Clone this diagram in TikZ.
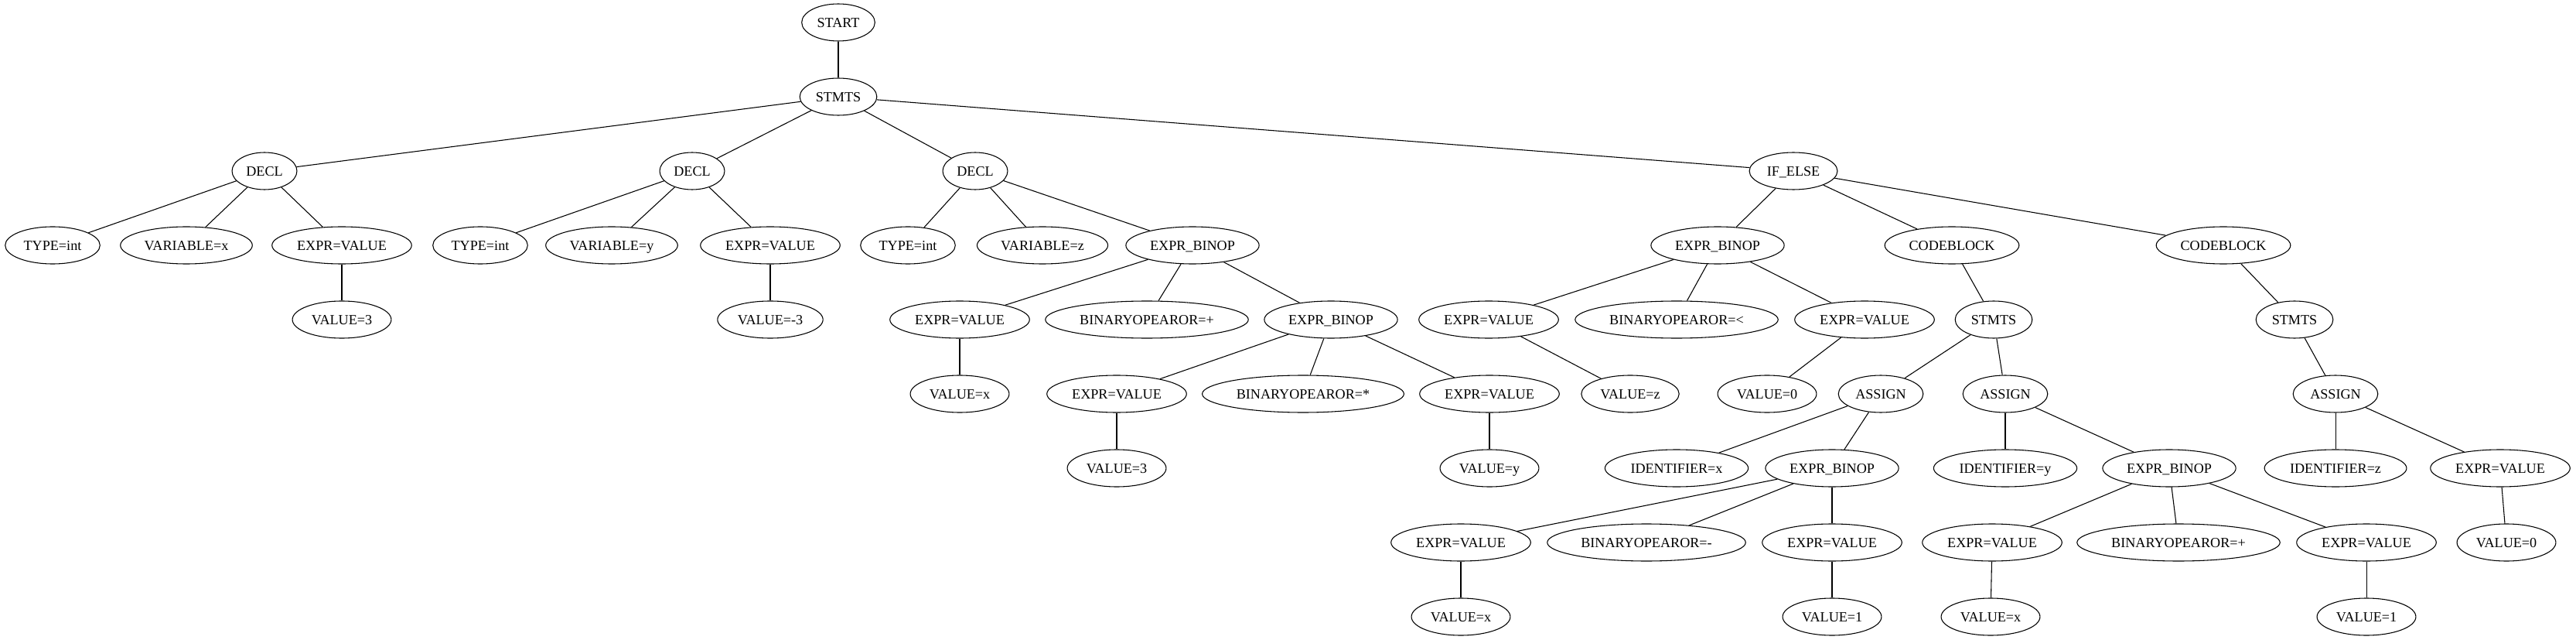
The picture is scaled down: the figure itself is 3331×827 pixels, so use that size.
\documentclass[tikz,border=0pt]{standalone}
\usepackage{fontspec}
\setmainfont{Liberation Serif}
\usepackage{tikz}
\usetikzlibrary{shapes.geometric}

\begin{document}
\begin{tikzpicture}[x=0.75pt, y=-0.75pt, line width=0.8pt,
    tnode/.style={draw, ellipse, line width=0.8pt, inner xsep=4.5pt, inner ysep=2pt,
        minimum width=54pt, minimum height=36pt, text height=9.2pt, text depth=0pt,
        font=\fontsize{13.6pt}{16pt}\selectfont}]
    \useasboundingbox (0,0) rectangle (3331,827);

    % rank 0 and 1
    \node (start) [tnode] at (1084,29) {START};
    \node (stmts) [tnode] at (1084,125) {STMTS};

    % rank 2
    \node (decl1) [tnode] at (342,221) {DECL};
    \node (decl2) [tnode] at (895,221) {DECL};
    \node (decl3) [tnode] at (1261,221) {DECL};
    \node (ifelse) [tnode] at (2319,221) {IF\_ELSE};

    % rank 3
    \node (type1) [tnode] at (68,317) {TYPE=int};
    \node (varx) [tnode] at (241,317) {VARIABLE=x};
    \node (ev1) [tnode] at (442,317) {EXPR=VALUE};
    \node (type2) [tnode] at (621,317) {TYPE=int};
    \node (vary) [tnode] at (791,317) {VARIABLE=y};
    \node (ev2) [tnode] at (996,317) {EXPR=VALUE};
    \node (type3) [tnode] at (1174,317) {TYPE=int};
    \node (varz) [tnode] at (1348,317) {VARIABLE=z};
    \node (eb1) [tnode] at (1542,317) {EXPR\_BINOP};
    \node (eb3) [tnode] at (2221,317) {EXPR\_BINOP};
    \node (cb1) [tnode] at (2524,317) {CODEBLOCK};
    \node (cb2) [tnode] at (2875,317) {CODEBLOCK};

    % rank 4
    \node (val3) [tnode] at (442,413) {VALUE=3};
    \node (valm3) [tnode] at (996,413) {VALUE=-3};
    \node (ev3) [tnode] at (1241,413) {EXPR=VALUE};
    \node (binplus) [tnode] at (1483,413) {BINARYOPEAROR=+};
    \node (eb2) [tnode] at (1721,413) {EXPR\_BINOP};
    \node (ev6) [tnode] at (1925,413) {EXPR=VALUE};
    \node (binlt) [tnode] at (2168,413) {BINARYOPEAROR=<};
    \node (ev7) [tnode] at (2411,413) {EXPR=VALUE};
    \node (stmts2) [tnode] at (2578,413) {STMTS};
    \node (stmts3) [tnode] at (2967,413) {STMTS};

    % rank 5
    \node (valx) [tnode] at (1241,509) {VALUE=x};
    \node (ev4) [tnode] at (1444,509) {EXPR=VALUE};
    \node (binmul) [tnode] at (1685,509) {BINARYOPEAROR=*};
    \node (ev5) [tnode] at (1926,509) {EXPR=VALUE};
    \node (valz) [tnode] at (2108,509) {VALUE=z};
    \node (val0) [tnode] at (2285,509) {VALUE=0};
    \node (assign1) [tnode] at (2432,509) {ASSIGN};
    \node (assign2) [tnode] at (2593,509) {ASSIGN};
    \node (assign3) [tnode] at (3020,509) {ASSIGN};

    % rank 6
    \node (val3b) [tnode] at (1444,605) {VALUE=3};
    \node (valy) [tnode] at (1926,605) {VALUE=y};
    \node (idx) [tnode] at (2168,605) {IDENTIFIER=x};
    \node (eb4) [tnode] at (2369,605) {EXPR\_BINOP};
    \node (idy) [tnode] at (2593,605) {IDENTIFIER=y};
    \node (eb5) [tnode] at (2805,605) {EXPR\_BINOP};
    \node (idz) [tnode] at (3020,605) {IDENTIFIER=z};
    \node (ev12) [tnode] at (3233,605) {EXPR=VALUE};

    % rank 7
    \node (ev8) [tnode] at (1889,701) {EXPR=VALUE};
    \node (binminus) [tnode] at (2129,701) {BINARYOPEAROR=-};
    \node (ev9) [tnode] at (2369,701) {EXPR=VALUE};
    \node (ev10) [tnode] at (2576,701) {EXPR=VALUE};
    \node (binplus2) [tnode] at (2817,701) {BINARYOPEAROR=+};
    \node (ev11) [tnode] at (3060,701) {EXPR=VALUE};
    \node (val0b) [tnode] at (3241,701) {VALUE=0};

    % rank 8
    \node (valx2) [tnode] at (1889,797) {VALUE=x};
    \node (val1) [tnode] at (2369,797) {VALUE=1};
    \node (valx3) [tnode] at (2574,797) {VALUE=x};
    \node (val1b) [tnode] at (3060,797) {VALUE=1};

    % edges
    \draw (start) -- (stmts);
    \draw (stmts) -- (decl1);
    \draw (stmts) -- (decl2);
    \draw (stmts) -- (decl3);
    \draw (stmts) -- (ifelse);

    \draw (decl1) -- (type1);
    \draw (decl1) -- (varx);
    \draw (decl1) -- (ev1);
    \draw (ev1) -- (val3);

    \draw (decl2) -- (type2);
    \draw (decl2) -- (vary);
    \draw (decl2) -- (ev2);
    \draw (ev2) -- (valm3);

    \draw (decl3) -- (type3);
    \draw (decl3) -- (varz);
    \draw (decl3) -- (eb1);
    \draw (eb1) -- (ev3);
    \draw (eb1) -- (binplus);
    \draw (eb1) -- (eb2);
    \draw (ev3) -- (valx);
    \draw (eb2) -- (ev4);
    \draw (eb2) -- (binmul);
    \draw (eb2) -- (ev5);
    \draw (ev4) -- (val3b);
    \draw (ev5) -- (valy);

    \draw (ifelse) -- (eb3);
    \draw (ifelse) -- (cb1);
    \draw (ifelse) -- (cb2);
    \draw (eb3) -- (ev6);
    \draw (eb3) -- (binlt);
    \draw (eb3) -- (ev7);
    \draw (ev6) -- (valz);
    \draw (ev7) -- (val0);

    \draw (cb1) -- (stmts2);
    \draw (stmts2) -- (assign1);
    \draw (stmts2) -- (assign2);
    \draw (assign1) -- (idx);
    \draw (assign1) -- (eb4);
    \draw (eb4) -- (ev8);
    \draw (eb4) -- (binminus);
    \draw (eb4) -- (ev9);
    \draw (ev8) -- (valx2);
    \draw (ev9) -- (val1);
    \draw (assign2) -- (idy);
    \draw (assign2) -- (eb5);
    \draw (eb5) -- (ev10);
    \draw (eb5) -- (binplus2);
    \draw (eb5) -- (ev11);
    \draw (ev10) -- (valx3);
    \draw (ev11) -- (val1b);

    \draw (cb2) -- (stmts3);
    \draw (stmts3) -- (assign3);
    \draw (assign3) -- (idz);
    \draw (assign3) -- (ev12);
    \draw (ev12) -- (val0b);
\end{tikzpicture}
\end{document}
